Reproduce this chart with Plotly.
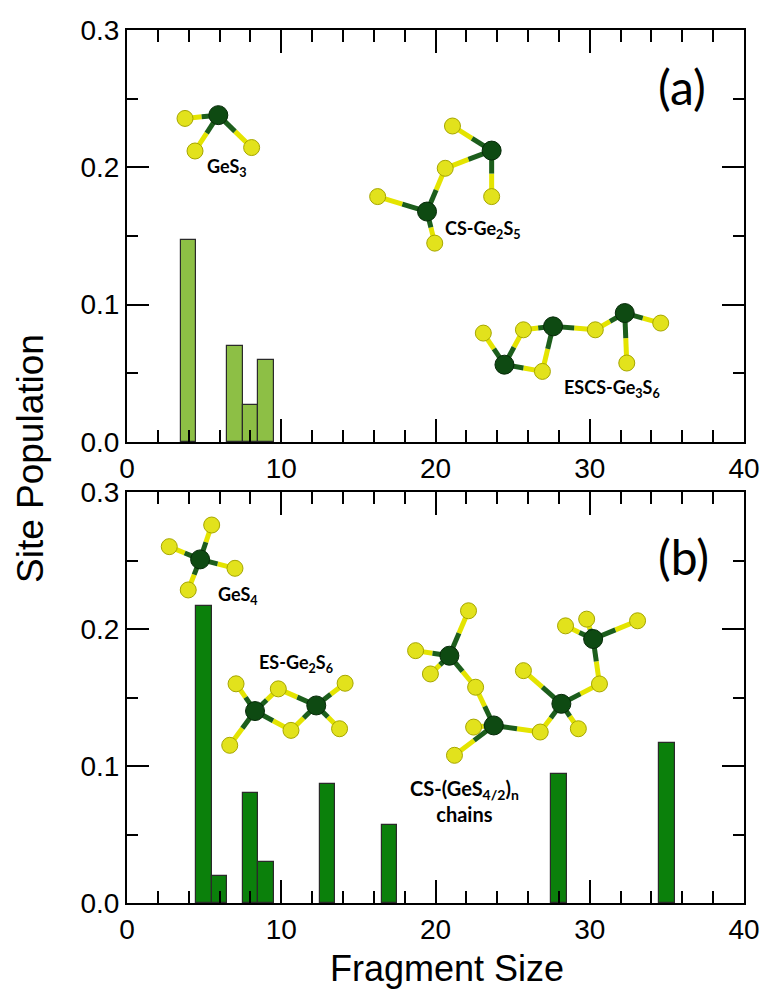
import plotly.graph_objects as go
from plotly.subplots import make_subplots

# ---------------- data ----------------
sizes_a = [4, 7, 8, 9]
pop_a = [0.147, 0.070, 0.027, 0.060]

sizes_b = [5, 6, 8, 9, 13, 17, 28, 35]
pop_b = [0.217, 0.020, 0.080, 0.030, 0.087, 0.057, 0.094, 0.117]

x_ticks = [0, 10, 20, 30, 40]
y_ticks = [0.0, 0.1, 0.2, 0.3]

# molecule sketches (atom centres in data units of each panel)
ge_a_x = [5.92, 23.64, 19.45, 24.47, 27.62, 32.27]
ge_a_y = [0.238, 0.2122, 0.1678, 0.0563, 0.0842, 0.0939]
s_a_x = [3.76, 4.41, 8.08, 21.1, 23.64, 20.63, 16.25, 19.95, 23.1, 25.7, 26.93, 30.36, 34.6, 32.4]
s_a_y = [0.2356, 0.2119, 0.2144, 0.2301, 0.1787, 0.1993, 0.1787, 0.1448, 0.0793, 0.0817, 0.0514, 0.0817, 0.0866, 0.0575]
bonds_a = [(0, 0), (0, 1), (0, 2), (1, 3), (1, 4), (1, 5), (2, 5), (2, 6), (2, 7),
           (3, 8), (3, 9), (3, 10), (4, 9), (4, 10), (4, 11), (5, 11), (5, 12), (5, 13)]

ge_b_x = [4.74, 8.3, 12.27, 20.9, 23.78, 28.16, 30.22]
ge_b_y = [0.2508, 0.1401, 0.1442, 0.1805, 0.1296, 0.1454, 0.1927]
s_b_x = [5.49, 2.74, 7.0, 3.97, 7.07, 6.66, 9.81, 10.63, 14.14, 13.78,
         22.14, 18.71, 19.67, 22.6, 22.47, 21.23, 26.79, 25.7, 29.26, 30.63, 28.43, 29.8, 33.1]
s_b_y = [0.2759, 0.2601, 0.2443, 0.2285, 0.160, 0.1151, 0.1563, 0.126, 0.1604, 0.1272,
         0.2133, 0.1842, 0.1672, 0.1575, 0.1284, 0.1078, 0.1248, 0.1696, 0.1272, 0.1599, 0.2023, 0.2072, 0.206]
bonds_b = [(0, 0), (0, 1), (0, 2), (0, 3),
           (1, 4), (1, 5), (1, 6), (1, 7), (2, 6), (2, 7), (2, 8), (2, 9),
           (3, 10), (3, 11), (3, 12), (3, 13), (4, 13), (4, 14), (4, 15), (4, 16),
           (5, 16), (5, 17), (5, 18), (5, 19), (6, 19), (6, 20), (6, 21), (6, 22)]

labels_a = ["GeS<sub>3</sub>", "CS-Ge<sub>2</sub>S<sub>5</sub>", "ESCS-Ge<sub>3</sub>S<sub>6</sub>"]
labels_a_x = [6.5, 23.1, 31.45]
labels_a_y = [0.200, 0.1545, 0.0393]
labels_a_size = [18, 18, 18]
labels_b = ["GeS<sub>4</sub>", "ES-Ge<sub>2</sub>S<sub>6</sub>", "CS-(GeS<sub>4/2</sub>)<sub>n</sub><br>chains"]
labels_b_x = [7.2, 10.96, 21.9]
labels_b_y = [0.2241, 0.1745, 0.0745]
labels_b_size = [18, 18, 20]

# ---------------- figure ----------------
W, H = 763, 992
X0, X1 = 127, 744          # plot left / right in pixels
YT_A, YB_A = 30, 442       # top panel
YT_B, YB_B = 492, 903      # bottom panel
ML, MR, MT, MB = X0, W - X1, YT_A, H - YB_B
PW, PH = X1 - X0, YB_B - YT_A

fig = make_subplots(rows=2, cols=1, vertical_spacing=0.0)

fig.add_trace(go.Bar(x=sizes_a, y=pop_a, width=1.0,
                     marker=dict(color="#8DBF45", line=dict(color="#2a2a2a", width=1.2)),
                     showlegend=False), row=1, col=1)
fig.add_trace(go.Bar(x=sizes_b, y=pop_b, width=1.0,
                     marker=dict(color="#0B800B", line=dict(color="#2a2a2a", width=1.2)),
                     showlegend=False), row=2, col=1)

GE_COL, GE_EDGE = "#0E4A12", "#062A08"
S_COL, S_EDGE = "#E2E21C", "#A6A600"
BOND_GE, BOND_S = "#1C5E1C", "#E4E400"


def add_molecules(gx, gy, sx, sy, bonds, row):
    gxs, gys, sxs, sys_ = [], [], [], []
    for gi, si in bonds:
        mx = (gx[gi] + sx[si]) / 2
        my = (gy[gi] + sy[si]) / 2
        gxs += [gx[gi], mx, None]
        gys += [gy[gi], my, None]
        sxs += [mx, sx[si], None]
        sys_ += [my, sy[si], None]
    fig.add_trace(go.Scatter(x=sxs, y=sys_, mode="lines", line=dict(color=BOND_S, width=5),
                             showlegend=False, hoverinfo="skip"), row=row, col=1)
    fig.add_trace(go.Scatter(x=gxs, y=gys, mode="lines", line=dict(color=BOND_GE, width=5),
                             showlegend=False, hoverinfo="skip"), row=row, col=1)
    fig.add_trace(go.Scatter(x=sx, y=sy, mode="markers",
                             marker=dict(size=16, color=S_COL, line=dict(width=1, color=S_EDGE)),
                             showlegend=False, hoverinfo="skip"), row=row, col=1)
    fig.add_trace(go.Scatter(x=gx, y=gy, mode="markers",
                             marker=dict(size=19, color=GE_COL, line=dict(width=1, color=GE_EDGE)),
                             showlegend=False, hoverinfo="skip"), row=row, col=1)


add_molecules(ge_a_x, ge_a_y, s_a_x, s_a_y, bonds_a, 1)
add_molecules(ge_b_x, ge_b_y, s_b_x, s_b_y, bonds_b, 2)

tickfont = dict(family="Liberation Sans, Arial, sans-serif", size=28, color="black")
xax = dict(range=[0, 40], tickvals=x_ticks, ticks="inside", ticklen=23, tickwidth=2,
           tickcolor="black", showline=True, linewidth=2, linecolor="black", mirror="ticks",
           showgrid=False, zeroline=False, tickfont=tickfont, automargin=False,
           minor=dict(dtick=2, tick0=0, ticks="inside", ticklen=12, tickwidth=2, tickcolor="black"))
yax = dict(range=[0, 0.3], tickvals=y_ticks, tickformat=".1f", ticks="inside", ticklen=22,
           tickwidth=2, tickcolor="black", showline=True, linewidth=2, linecolor="black",
           mirror="ticks", showgrid=False, zeroline=False, tickfont=tickfont, automargin=False,
           minor=dict(dtick=0.05, tick0=0, ticks="inside", ticklen=11, tickwidth=2, tickcolor="black"))

top_dom = [(YB_B - YB_A) / PH, 1.0]
bot_dom = [0.0, (YB_B - YT_B) / PH]

fig.update_layout(
    width=W, height=H,
    margin=dict(l=ML, r=MR, t=MT, b=MB, autoexpand=False),
    plot_bgcolor="white", paper_bgcolor="white",
    bargap=0,
    xaxis=dict(xax, anchor="y"),
    xaxis2=dict(xax, anchor="y2"),
    yaxis=dict(yax, domain=top_dom, anchor="x"),
    yaxis2=dict(yax, domain=bot_dom, anchor="x2"),
)

ann = []
for t, x, y, s in zip(labels_a, labels_a_x, labels_a_y, labels_a_size):
    ann.append(dict(text="<b>" + t + "</b>", x=x, y=y, xref="x", yref="y",
                    xanchor="center", yanchor="middle", showarrow=False,
                    font=dict(family="Lato, Open Sans, sans-serif", size=s, color="black")))
for t, x, y, s in zip(labels_b, labels_b_x, labels_b_y, labels_b_size):
    ann.append(dict(text="<b>" + t.replace("<br>", "</b><br><b>") + "</b>", x=x, y=y,
                    xref="x2", yref="y2", xanchor="center", yanchor="middle", showarrow=False,
                    font=dict(family="Lato, Open Sans, sans-serif", size=s, color="black")))

panel_font = dict(family="Lato, Open Sans, sans-serif", size=48, color="black")
ann.append(dict(text="(a)", x=35.98, y=0.259, xref="x", yref="y", xanchor="center",
                yanchor="middle", showarrow=False, font=panel_font))
ann.append(dict(text="(b)", x=36.1, y=0.2532, xref="x2", yref="y2", xanchor="center",
                yanchor="middle", showarrow=False, font=panel_font))

ann.append(dict(text="Fragment Size", x=(447 - X0) / PW, y=(YB_B - 968) / PH,
                xref="paper", yref="paper", xanchor="center", yanchor="middle",
                showarrow=False,
                font=dict(family="Liberation Sans, Arial, sans-serif", size=36, color="black")))
ann.append(dict(text="Site Population", x=(30 - X0) / PW, y=(YB_B - 459) / PH,
                xref="paper", yref="paper", xanchor="center", yanchor="middle",
                showarrow=False, textangle=-90,
                font=dict(family="Liberation Sans, Arial, sans-serif", size=37, color="black")))
fig.update_layout(annotations=ann)

fig.write_html("out.html", config={"displayModeBar": False},
               post_script="document.body.style.margin='0px';")
